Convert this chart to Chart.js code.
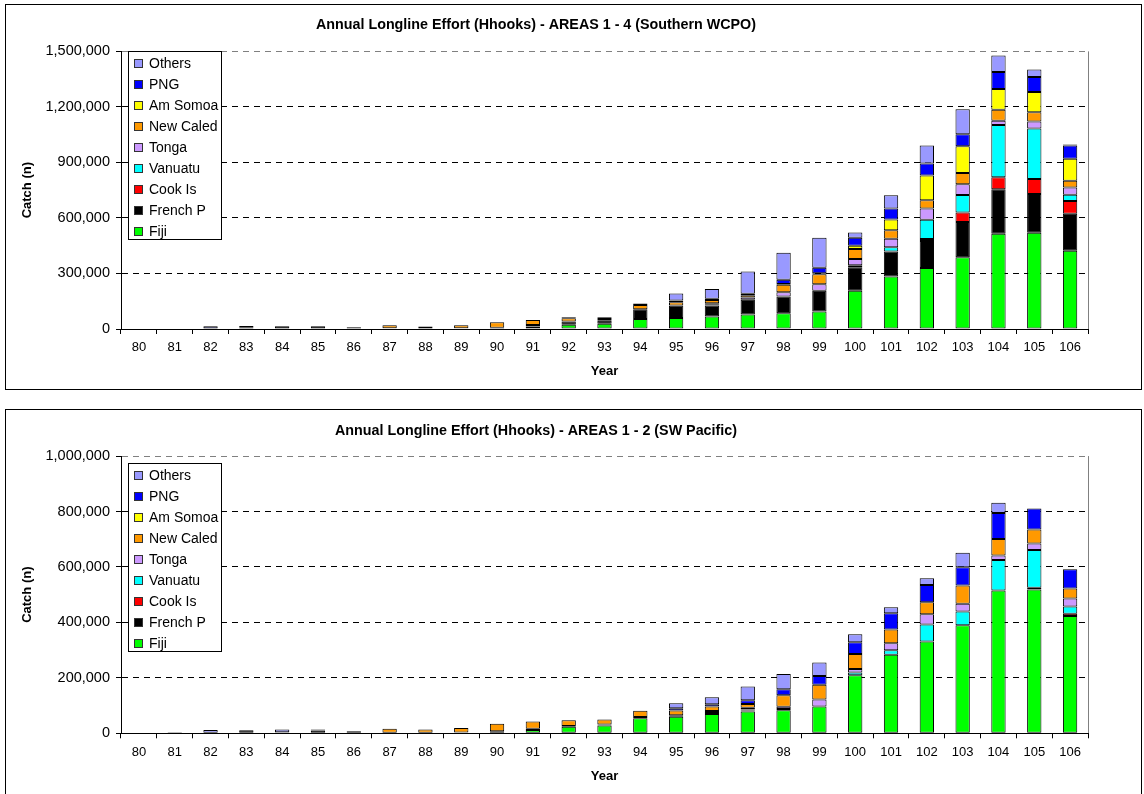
<!DOCTYPE html>
<html>
<head>
<meta charset="utf-8">
<script src="https://cdn.jsdelivr.net/npm/chart.js@4.4.0/dist/chart.umd.min.js"></script>
<style>
  body { margin: 0; width: 1144px; height: 794px; overflow: hidden; background: #fff; font-family: "Liberation Sans", Arial, sans-serif; }
  .frame { position: absolute; border: 1px solid #000; }
  .wrap { position: absolute; left: -28px; width: 1172px; }
  .legend { position: absolute; left: 128px; width: 92px; height: 187px; border: 1px solid #000; background: #fff; font-size: 14px; color: #000; }
  .legend .item { position: absolute; left: 0; height: 21px; line-height: 21px; white-space: nowrap; }
  .legend .sw { position: absolute; left: 5px; top: 6px; width: 7px; height: 7px; border: 1px solid #333; }
  .legend .tx { position: absolute; left: 20px; top: 0; }
</style>
</head>
<body>
<div class="frame" style="left:5px;top:4px;width:1135px;height:384px;"></div>
<div class="frame" style="left:5px;top:409px;width:1135px;height:400px;"></div>
<div class="wrap" style="top:0;height:392px;"><canvas id="chart1"></canvas></div>
<div class="wrap" style="top:392px;height:402px;"><canvas id="chart2"></canvas></div>
<div class="legend" id="legend1" style="top:51px;"></div>
<div class="legend" id="legend2" style="top:463px;"></div>
<script>
const years = ["80","81","82","83","84","85","86","87","88","89","90","91","92","93","94","95","96","97","98","99","100","101","102","103","104","105","106"];
const seriesNames = ["Fiji", "French P", "Cook Is", "Vanuatu", "Tonga", "New Caled", "Am Somoa", "PNG", "Others"];
const seriesColors = ["#00FF00", "#000000", "#FF0000", "#00FFFF", "#CC99FF", "#FF9900", "#FFFF00", "#0000FF", "#9999FF"];

// AREAS 1 - 4 (Southern WCPO)
const fiji1     = [0,0,0,0,0,0,0,0,0,0,0,13000,23000,29000,54000,59000,68000,79000,85000,94000,207000,284000,329000,387000,514000,520000,423000];
const frenchP1  = [0,3000,0,10000,15000,15000,10000,4000,3000,4000,7000,9000,17000,16000,53000,68000,59000,79000,90000,112000,126000,135000,146000,191000,241000,210000,200000];
const cookIs1   = [0,0,0,0,0,0,0,0,0,0,0,0,0,0,0,0,0,0,0,0,0,0,11000,52000,65000,81000,68000];
const vanuatu1  = [0,0,0,0,0,0,0,0,0,0,0,0,0,0,0,0,7000,0,0,0,11000,22000,104000,94000,282000,272000,34000];
const tonga1    = [0,0,0,0,0,0,0,0,0,0,0,0,0,0,0,0,5000,12000,23000,36000,34000,47000,61000,58000,23000,38000,40000];
const newCaled1 = [0,0,0,0,0,0,0,16000,11000,16000,30000,26000,18000,9000,23000,18000,18000,12000,41000,54000,54000,45000,45000,61000,59000,50000,36000];
const amSomoa1  = [0,0,0,0,0,0,0,0,0,0,0,0,0,0,0,0,0,0,4000,5000,18000,59000,133000,144000,113000,110000,119000];
const png1      = [0,0,0,0,0,0,0,0,0,0,0,0,5000,9000,8000,9000,7000,8000,23000,30000,43000,59000,65000,65000,92000,81000,72000];
const others1   = [0,0,15000,6000,0,0,0,0,0,0,0,0,0,0,0,38000,52000,120000,146000,162000,29000,72000,97000,135000,88000,40000,5000];

// AREAS 1 - 2 (SW Pacific)
const fiji2     = [0,0,0,0,0,0,0,0,0,0,0,12000,24000,28000,54000,60000,70000,79000,83000,97000,209000,283000,331000,390000,515000,519000,423000];
const frenchP2  = [0,4000,0,11000,4000,10000,0,0,0,3000,7000,4000,2000,4000,5000,5000,0,3000,5000,0,0,0,0,0,0,6000,0];
const cookIs2   = [0,0,0,0,0,0,0,0,0,0,0,0,0,0,0,0,0,0,0,0,0,0,0,0,0,0,8000];
const vanuatu2  = [0,0,0,0,0,0,0,0,0,0,0,0,0,0,0,0,7000,4000,0,0,10000,17000,61000,49000,110000,136000,26000];
const tonga2    = [0,0,0,0,0,0,0,0,0,0,0,0,0,0,0,0,3000,6000,8000,25000,13000,25000,37000,28000,16000,24000,29000];
const newCaled2 = [0,0,0,0,0,4000,7000,16000,14000,16000,27000,27000,21000,18000,22000,17000,17000,14000,41000,53000,54000,49000,44000,66000,60000,50000,36000];
const amSomoa2  = [0,0,0,0,0,0,0,0,0,0,0,0,0,0,0,0,0,0,0,0,0,0,0,0,0,0,0];
const png2      = [0,0,0,0,0,0,0,0,0,0,0,0,0,0,0,8000,8000,13000,22000,32000,42000,59000,62000,66000,94000,76000,70000];
const others2   = [0,0,12000,0,10000,0,0,0,0,0,0,0,0,0,0,18000,25000,50000,55000,48000,29000,22000,24000,52000,37000,0,0];

const yTicks1 = { max: 1500000, step: 300000 };
const yTicks2 = { max: 1000000, step: 200000 };

const FONT = "'Liberation Sans', Arial, sans-serif";

function makeChart(id, titleText, series, yt, geo) {
  return new Chart(id, {
    type: "bar",
    data: {
      labels: years,
      datasets: series.map((d, i) => ({
        label: seriesNames[i],
        data: d,
        backgroundColor: seriesColors[i],
        borderColor: "#000",
        borderWidth: 1,
        borderSkipped: false,
        barPercentage: 0.4,
        categoryPercentage: 1.0
      }))
    },
    options: {
      responsive: true,
      maintainAspectRatio: false,
      animation: false,
      layout: { padding: { left: 12, right: 56, top: 0, bottom: geo.padBottom } },
      plugins: {
        legend: { display: false },
        tooltip: { enabled: false },
        title: {
          display: true,
          text: titleText,
          color: "#000",
          font: { family: FONT, size: 14.3, weight: "bold" },
          padding: { top: geo.titleTop, bottom: geo.titleBottom }
        }
      },
      scales: {
        x: {
          stacked: true,
          grid: {
            offset: true,
            color: (ctx) => ctx.tick ? "rgba(0,0,0,0)" : "#808080",
            tickColor: "#000",
            tickLength: 5
          },
          border: { color: "#000", width: 1 },
          ticks: { color: "#000", font: { family: FONT, size: 13 }, padding: 6, maxRotation: 0, autoSkip: false },
          title: { display: true, text: "Year", color: "#000", font: { family: FONT, size: 13, weight: "bold" }, padding: { top: 0, bottom: 0 } },
          afterFit: (s) => { s.height = geo.xHeight; }
        },
        y: {
          stacked: true,
          min: 0,
          max: yt.max,
          grid: {
            color: (ctx) => ctx.tick && ctx.tick.value === yt.max ? "#808080" : "#000",
            tickBorderDash: [],
            tickColor: "#000",
            tickLength: 5
          },
          border: { color: "#000", width: 1, dash: [6, 5] },
          ticks: {
            stepSize: yt.step,
            color: "#000",
            font: { family: FONT, size: 14.5 },
            padding: 6,
            callback: (v) => v.toLocaleString("en-US")
          },
          title: { display: true, text: "Catch (n)", color: "#000", font: { family: FONT, size: 13, weight: "bold" }, padding: { top: 35.2, bottom: 0 } },
          afterFit: (s) => { s.width = 137; }
        }
      }
    }
  });
}

function buildLegend(elId) {
  const el = document.getElementById(elId);
  for (let k = seriesNames.length - 1, row = 0; k >= 0; k--, row++) {
    const item = document.createElement("div");
    item.className = "item";
    item.style.top = (0.8 + 21 * row) + "px";
    item.innerHTML = '<span class="sw" style="background:' + seriesColors[k] + '"></span><span class="tx">' + seriesNames[k] + '</span>';
    el.appendChild(item);
  }
}

makeChart("chart1", "Annual Longline Effort (Hhooks) - AREAS 1 - 4 (Southern WCPO)",
  [fiji1, frenchP1, cookIs1, vanuatu1, tonga1, newCaled1, amSomoa1, png1, others1], yTicks1,
  { padBottom: 13.2, titleTop: 16.6, titleBottom: 17.6, xHeight: 49.8 });

makeChart("chart2", "Annual Longline Effort (Hhooks) - AREAS 1 - 2 (SW Pacific)",
  [fiji2, frenchP2, cookIs2, vanuatu2, tonga2, newCaled2, amSomoa2, png2, others2], yTicks2,
  { padBottom: 10.2, titleTop: 30.6, titleBottom: 16.3, xHeight: 50.5 });

buildLegend("legend1");
buildLegend("legend2");
</script>
</body>
</html>
